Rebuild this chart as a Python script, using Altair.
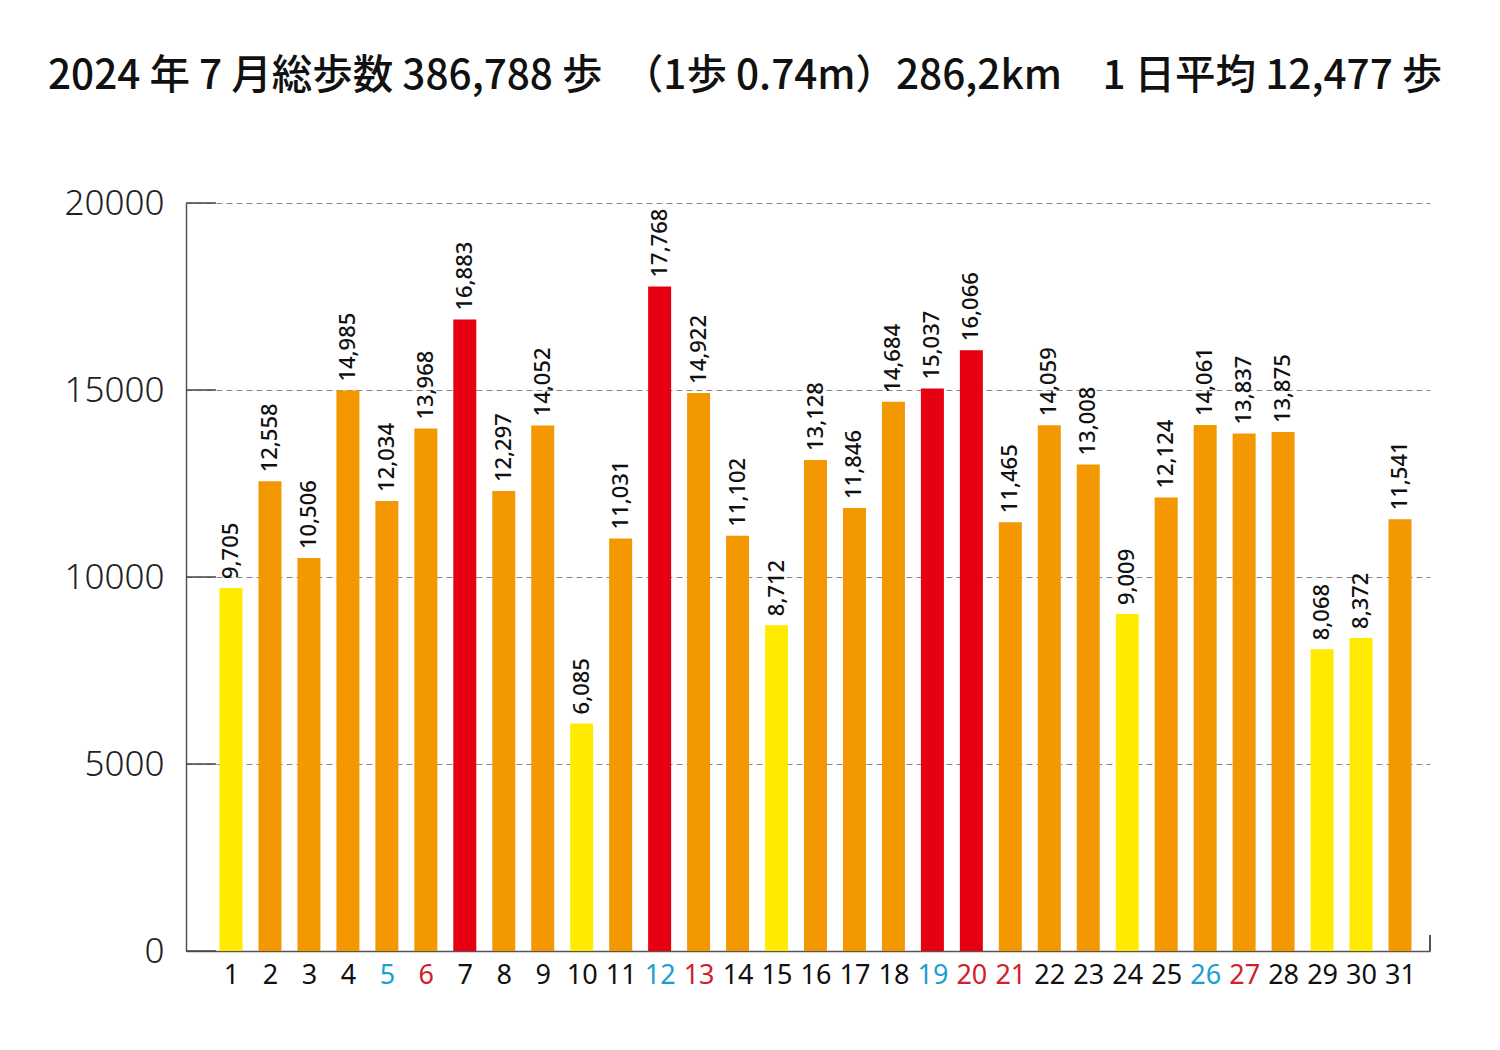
import altair as alt
import pandas as pd

days = list(range(1, 32))
steps = [9705, 12558, 10506, 14985, 12034, 13968, 16883, 12297, 14052, 6085,
         11031, 17768, 14922, 11102, 8712, 13128, 11846, 14684, 15037, 16066,
         11465, 14059, 13008, 9009, 12124, 14061, 13837, 13875, 8068, 8372, 11541]
saturdays = [5, 12, 19, 26]
sundays_holidays = [6, 13, 20, 21, 27]
y_ticks = [0, 5000, 10000, 15000, 20000]
title_text = "2024 年 7 月総歩数 386,788 歩　（1歩  0.74m）286,2km　1 日平均 12,477 歩"

YELLOW = "#FFEB00"
ORANGE = "#F39800"
RED = "#E60012"
BLUE_LBL = "#1A9FD0"
RED_LBL = "#D2202A"

df = pd.DataFrame({"day": days, "steps": steps})
ticks_df = pd.DataFrame({"v": y_ticks})

W, H = 1244, 748
FONT = "Noto Sans"

x_scale = alt.Scale(domain=[-0.155, 31.77], nice=False, zero=False, padding=0)
y_scale = alt.Scale(domain=[0, 20000], nice=False)

label_color = {
    "condition": [
        {"test": f"indexof({saturdays}, datum.value) >= 0", "value": BLUE_LBL},
        {"test": f"indexof({sundays_holidays}, datum.value) >= 0", "value": RED_LBL},
    ],
    "value": "#111111",
}

x_axis = alt.Axis(
    values=days, grid=False, ticks=False, title=None,
    domainColor="#555555", domainWidth=1.5,
    labelFont=FONT, labelFontSize=27, labelPadding=11,
    labelColor=label_color,
    labelFlush=False, labelOverlap=False,
)
y_axis = alt.Axis(
    values=y_ticks, format="d", grid=True, gridDash=[6, 4], gridColor="#888888", gridWidth=1,
    ticks=False, title=None, domainColor="#555555", domainWidth=1.5,
    labelFont=FONT, labelFontSize=35, labelFontWeight=300, labelPadding=22,
    labelColor="#222222", labelFlush=False,
)

base = alt.Chart(df)

bars = base.mark_bar(size=23).encode(
    x=alt.X("day:Q", scale=x_scale, axis=x_axis),
    y=alt.Y("steps:Q", scale=y_scale, axis=y_axis),
    color=alt.Color(
        "steps:Q",
        scale=alt.Scale(type="threshold", domain=[10000, 15000], range=[YELLOW, ORANGE, RED]),
        legend=None,
    ),
)

labels = base.mark_text(
    angle=270, align="left", baseline="middle", dx=9, dy=0,
    font=FONT, fontSize=22, fontWeight=500, color="#111111",
).encode(
    x=alt.X("day:Q", scale=x_scale),
    y=alt.Y("steps:Q", scale=y_scale),
    text=alt.Text("steps:Q", format=","),
)

tick_rules = alt.Chart(ticks_df).mark_rule(color="#444444", strokeWidth=1.5).encode(
    y=alt.Y("v:Q", scale=y_scale),
    x=alt.value(0),
    x2=alt.value(30),
)

end_tick = alt.Chart(ticks_df).mark_rule(color="#555555", strokeWidth=1.5).encode(
    x=alt.value(W), y=alt.value(H - 16), y2=alt.value(H)
)

chart = alt.layer(bars, tick_rules, end_tick, labels).properties(
    width=W, height=H,
    background="white",
    title=alt.Title(
        title_text, anchor="start", frame="group", dx=-138, offset=57,
        baseline="alphabetic", font="Noto Sans CJK JP", fontSize=40.5,
        fontWeight=500, color="#111111",
    ),
    autosize=alt.AutoSizeParams(type="none"),
    padding={"left": 178, "top": 195, "right": 62, "bottom": 90},
).configure_view(stroke=None)

chart.save("out.html", embed_options={"renderer": "svg", "actions": False})
